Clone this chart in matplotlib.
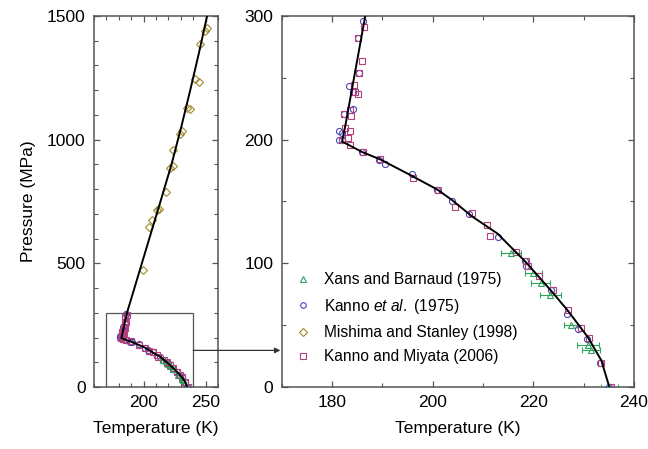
import matplotlib
matplotlib.use("Agg")
import matplotlib.pyplot as plt
from matplotlib.ticker import MultipleLocator, FixedLocator
from matplotlib.patches import Rectangle, FancyArrowPatch
from matplotlib.lines import Line2D

plt.rcParams['font.family'] = ['Liberation Sans', 'DejaVu Sans']
plt.rcParams['mathtext.fontset'] = 'custom'
plt.rcParams['mathtext.rm'] = 'Liberation Sans'
plt.rcParams['mathtext.it'] = 'Liberation Sans:italic'

# ---- data ----
# Xans and Barnaud (1975)
xans_T = [215.5, 220.0, 221.5, 223.4, 227.4, 230.8, 231.5, 235.1]
xans_P = [108, 92.3, 84.2, 74.2, 49.9, 34.3, 30.2, 0]
xans_err = [2.0, 1.7, 1.9, 2.0, 1.3, 2.2, 1.8, 1.7]

# Kanno et al. (1975)
k75_T = [186.1, 185.2, 185.3, 183.4, 184.1, 184.2, 182.3, 181.3, 182.0, 181.3, 182.0,
         186.0, 189.3, 190.6, 195.9, 200.8, 203.9, 207.3, 212.9, 218.3, 218.5, 223.5,
         226.7, 228.8, 230.7, 233.2, 235.1]
k75_P = [296, 282.5, 253.6, 243.6, 238.7, 224.7, 220.7, 207.2, 205.6, 199.7, 200,
         189.7, 183.5, 180.2, 171.9, 159.7, 150.3, 139.5, 121.4, 101.7, 97.9, 78.3,
         59.4, 47.3, 38.6, 19.7, 0]

# Mishima and Stanley (1998)
ms_T = [199.4, 204.2, 206.6, 210.7, 212.8, 218.2, 221.4, 223.6, 224.1, 229.5, 230.9,
        234.9, 237.6, 241.6, 244.3, 245.7, 249.7, 251.1]
ms_P = [474, 647, 674, 714, 721, 788, 887, 893, 957, 1022, 1034,
        1130, 1125, 1247, 1233, 1385, 1439, 1453]

# Kanno and Miyata (2006)
km_T = [186.3, 185.2, 185.9, 185.4, 184.3, 184.5, 185.1, 183.6, 183.8, 182.4, 182.5,
        183.5, 183.2, 182.0, 183.5, 186.2, 189.6, 196.1, 201.0, 204.4, 207.9, 210.7,
        211.3, 216.5, 218.6, 219.0, 221.2, 224.0, 226.8, 229.5, 231.0, 233.5, 235.5]
km_P = [291.4, 282.5, 263.6, 253.6, 243.9, 238.7, 236.9, 223.9, 219.1, 220.4, 209.6,
        207.2, 201.5, 199.7, 195.6, 189.7, 184, 169.1, 159.7, 145.2, 140.3, 130.9,
        122, 108.8, 102, 98, 89.6, 78.8, 62.1, 48.1, 40, 19.7, 0]

# melting curve
curve_T = [235.1, 233.5, 230.8, 226.8, 223.5, 218.5, 212.9, 207.8, 203.9, 200.9,
           195.6, 189.6, 186.0, 182.0, 182.6, 186.6, 195.6, 204.6, 213.6, 222.5,
           230.3, 237.6, 244.6, 251.2]
curve_P = [0, 21.6, 40.5, 62, 78, 101, 124, 138, 151, 159.7,
           171.3, 184, 190, 198.5, 210.4, 300, 450, 600, 750, 900,
           1050, 1200, 1350, 1500]

labels = ['Xans and Barnaud (1975)', r'Kanno $\it{et\ al.\ }$(1975)',
          'Mishima and Stanley (1998)', 'Kanno and Miyata (2006)']
markers = ['^', 'o', 'D', 's']
colors = ['#2ea35a', '#4848b8', '#a08c2a', '#b2407c']

W, H = 648, 449
fig = plt.figure(figsize=(W / 100, H / 100), dpi=100)
axL = fig.add_axes([94 / W, 1 - 387 / H, 124 / W, 371 / H])
axR = fig.add_axes([281.7 / W, 1 - 387 / H, 352.3 / W, 371 / H])

ms = 4.4
mew = 0.8


def draw(ax):
    ax.errorbar(xans_T, xans_P, xerr=xans_err, fmt='^', ms=ms, mfc='none',
                mec=colors[0], mew=mew, ecolor=colors[0], elinewidth=0.8,
                capsize=2, capthick=0.8, zorder=3)
    ax.plot(k75_T, k75_P, 'o', ms=ms, mfc='none', mec=colors[1], mew=mew, zorder=3)
    ax.plot(ms_T, ms_P, 'D', ms=ms * 0.95, mfc='none', mec=colors[2], mew=mew, zorder=3)
    ax.plot(km_T, km_P, 's', ms=ms * 0.95, mfc='none', mec=colors[3], mew=mew, zorder=3)
    ax.plot(curve_T, curve_P, '-', color='black', lw=1.4, zorder=4)
    for s in ax.spines.values():
        s.set_color('#555555')
        s.set_linewidth(1.1)
    ax.tick_params(which='both', direction='in', top=True, right=True,
                   color='#555555', labelsize=12.5, pad=6)
    ax.tick_params(which='major', length=4.5, width=0.9)
    ax.tick_params(which='minor', length=3, width=0.8)


draw(axL)
draw(axR)

axL.set_xlim(160, 260)
axL.set_ylim(0, 1500)
axL.xaxis.set_major_locator(FixedLocator([200, 250]))
axL.xaxis.set_minor_locator(MultipleLocator(10))
axL.yaxis.set_major_locator(MultipleLocator(500))
axL.yaxis.set_minor_locator(MultipleLocator(100))
axL.set_xlabel('Temperature (K)', fontsize=12.5, labelpad=8)
axL.set_ylabel('Pressure (MPa)', fontsize=12.5, labelpad=8)

axR.set_xlim(170, 240)
axR.set_ylim(0, 300)
axR.xaxis.set_major_locator(MultipleLocator(20))
axR.xaxis.set_minor_locator(MultipleLocator(10))
axR.yaxis.set_major_locator(MultipleLocator(100))
axR.yaxis.set_minor_locator(MultipleLocator(50))
axR.set_xlabel('Temperature (K)', fontsize=12.5, labelpad=8)

# zoom box on left panel
axL.add_patch(Rectangle((170, 0), 70, 300, fill=False, edgecolor='#555555',
                        lw=0.9, zorder=2))

# arrow from box to right panel
fig.canvas.draw()
p0 = fig.transFigure.inverted().transform(axL.transData.transform((240, 148)))
p1x = fig.transFigure.inverted().transform(axR.transAxes.transform((0, 0)))[0]
fig.add_artist(FancyArrowPatch(
    (p0[0], p0[1]), (p1x - 0.002, p0[1]), transform=fig.transFigure,
    arrowstyle='-|>', mutation_scale=8, color='#333333', lw=0.9,
    shrinkA=0, shrinkB=0))

handles = [Line2D([], [], ls='none', marker=m, ms=4, mfc='none', mec=c, mew=mew)
           for m, c in zip(markers, colors)]
axR.legend(handles, labels, loc='center left', bbox_to_anchor=(0.022, 0.185),
           frameon=False, fontsize=11.2, handlelength=1.0,
           handletextpad=0.85, labelspacing=0.6, borderaxespad=0)

fig.savefig('out.png', dpi=100)
